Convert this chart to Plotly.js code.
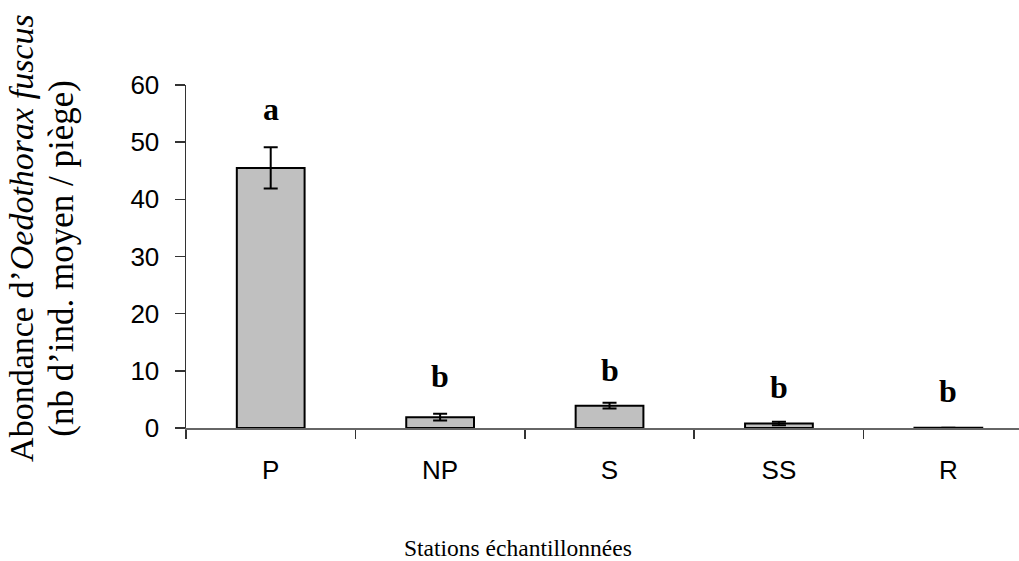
<!DOCTYPE html>
<html>
<head>
<meta charset="utf-8">
<script src="https://cdn.plot.ly/plotly-3.0.1.min.js"></script>
<style>html,body{margin:0;padding:0;background:#fff;}#chart{width:1019px;height:561px;}</style>
</head>
<body>
<div id="chart"></div>
<script>
const stations = ["P", "NP", "S", "SS", "R"];
const abundance = [45.5, 1.9, 3.9, 0.8, 0.05];
const stdError = [3.6, 0.6, 0.5, 0.3, 0];
const groupLetters = ["a", "b", "b", "b", "b"];
const letterHeights = [55.8, 9.1, 10.2, 7.2, 6.4];
const yTicks = [0, 10, 20, 30, 40, 50, 60];

const serif = "Liberation Serif, Times New Roman, serif";
const sans = "Liberation Sans, Arial, sans-serif";

const trace = {
  type: "bar",
  x: stations,
  y: abundance,
  width: 0.4,
  marker: {color: "#c0c0c0", line: {color: "#000", width: 2}},
  error_y: {type: "data", array: stdError, visible: true, color: "#000", thickness: 2, width: 7},
  hoverinfo: "x+y"
};

const annotations = stations.map((s, i) => ({
  x: s, y: letterHeights[i], xref: "x", yref: "y",
  text: "<b>" + groupLetters[i] + "</b>", showarrow: false,
  font: {family: serif, size: 32, color: "#000"},
  yanchor: "middle", xanchor: "center"
}));

annotations.push({
  xref: "paper", yref: "paper", x: -0.197, y: 0.554, xanchor: "center", yanchor: "middle",
  textangle: -90, showarrow: false,
  text: "Abondance d’<i>Oedothorax fuscus</i>",
  font: {family: serif, size: 34, color: "#000"}
});
annotations.push({
  xref: "paper", yref: "paper", x: -0.149, y: 0.496, xanchor: "center", yanchor: "middle",
  textangle: -90, showarrow: false,
  text: "(nb d’ind. moyen / piège)",
  font: {family: serif, size: 35, color: "#000"}
});
annotations.push({
  xref: "paper", yref: "paper", x: 0.399, y: -0.35, xanchor: "center", yanchor: "middle",
  showarrow: false,
  text: "Stations échantillonnées",
  font: {family: serif, size: 23.5, color: "#000"}
});

const layout = {
  width: 1019, height: 561,
  margin: {l: 186, r: 0, t: 85, b: 133},
  paper_bgcolor: "#fff", plot_bgcolor: "#fff",
  showlegend: false,
  xaxis: {
    type: "category",
    range: [-0.5, 4.417],
    tickson: "boundaries",
    ticks: "outside", ticklen: 9, tickwidth: 1.5, tickcolor: "#333",
    showline: true, linecolor: "#666", linewidth: 1.5,
    showgrid: false, zeroline: false,
    tickfont: {family: sans, size: 26, color: "#000"},
    ticklabelstandoff: 18
  },
  yaxis: {
    range: [0, 60],
    tickvals: yTicks,
    ticks: "outside", ticklen: 10, tickwidth: 1.5, tickcolor: "#333",
    showline: true, linecolor: "#333", linewidth: 1.5,
    showgrid: false, zeroline: false,
    tickfont: {family: sans, size: 26, color: "#000"},
    ticklabelstandoff: 10
  },
  annotations: annotations
};

Plotly.newPlot("chart", [trace], layout, {displayModeBar: false, staticPlot: true});
</script>
</body>
</html>
